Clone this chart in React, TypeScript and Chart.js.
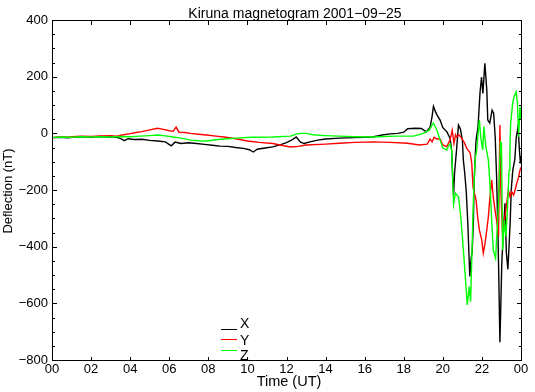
import React, { useEffect, useRef } from "react";
import { Chart, registerables } from "chart.js";

Chart.register(...registerables);

const TITLE = "Kiruna magnetogram 2001\u221209\u221225";
const X_LABEL = "Time (UT)";
const Y_LABEL = "Deflection (nT)";
const SERIES_NAMES = ["X", "Y", "Z"];
const SERIES_COLORS = ["#000000", "#ff0000", "#00ff00"];

const HOUR_MIN = 0;
const HOUR_MAX = 24;
const HOUR_STEP = 2;
const Y_MIN = -800;
const Y_MAX = 400;
const Y_STEP = 200;
const Y_MINOR_STEP = 50;

// X component (black)
const X_T = [0, 0.4, 0.8, 1.2, 1.6, 2, 2.4, 2.8, 3.2, 3.5, 3.7, 3.9, 4.2, 4.6, 5, 5.4, 5.8, 6.1, 6.3, 6.6, 7, 7.4, 7.8, 8.2, 8.6, 9, 9.4, 9.8, 10.1, 10.3, 10.5, 10.9, 11.3, 11.7, 12, 12.3, 12.5, 12.7, 12.9, 13.2, 13.6, 14, 14.7, 15.5, 16.4, 16.9, 17.3, 17.7, 18, 18.2, 18.6, 18.9, 19.15, 19.35, 19.45, 19.52, 19.6, 19.7, 19.86, 20.0, 20.2, 20.37, 20.45, 20.5, 20.55, 20.6, 20.7, 20.8, 20.9, 21.0, 21.05, 21.12, 21.2, 21.28, 21.38, 21.45, 21.5, 21.56, 21.6, 21.65, 21.7, 21.8, 21.9, 21.98, 22.05, 22.15, 22.25, 22.3, 22.4, 22.52, 22.6, 22.68, 22.75, 22.82, 22.87, 22.92, 22.97, 23.02, 23.1, 23.18, 23.25, 23.33, 23.4, 23.45, 23.5, 23.58, 23.68, 23.76, 23.85, 23.92, 23.97, 24];
const X_V = [-15, -14, -16, -13, -12, -14, -11, -13, -12, -18, -26, -19, -22, -21, -25, -27, -30, -44, -31, -36, -33, -36, -39, -42, -45, -46, -50, -53, -58, -66, -56, -52, -48, -40, -33, -22, -13, -30, -36, -30, -24, -20, -17, -15, -13, -6, -2, 0, 4, 16, 18, 17, 5, 22, 60, 95, 80, 65, 47, 20, 6, -17, -59, -150, -220, -140, -60, 29, 15, -24, -94, -140, -207, -320, -505, -440, -420, -317, -180, -94, -24, 23, 141, 199, 141, 247, 153, 47, 36, 82, 71, -13, -150, -350, -530, -737, -600, -450, -350, -247, -420, -480, -380, -306, -200, -130, -94, -13, 24, -60, -106, -80];

// Y component (red)
const Y_T = [0, 0.5, 1, 1.5, 2, 2.5, 3, 3.3, 3.6, 4, 4.3, 4.6, 5, 5.4, 5.7, 5.95, 6.2, 6.35, 6.5, 6.8, 7.1, 7.5, 7.9, 8.4, 8.8, 9.4, 10, 10.6, 11.3, 11.8, 12.2, 12.6, 13, 14, 14.7, 15.5, 16.4, 17.3, 18.2, 18.8, 19.2, 19.35, 19.45, 19.55, 19.7, 19.86, 20.0, 20.2, 20.37, 20.48, 20.57, 20.65, 20.71, 20.83, 20.96, 21.08, 21.22, 21.4, 21.48, 21.55, 21.7, 21.78, 21.87, 21.99, 22.07, 22.16, 22.25, 22.33, 22.4, 22.5, 22.58, 22.67, 22.75, 22.85, 22.92, 22.97, 23.05, 23.18, 23.27, 23.35, 23.44, 23.53, 23.62, 23.7, 23.78, 23.86, 23.95, 24];
const Y_V = [-15, -13, -12, -10, -11, -9, -8, -10, -6, -1, 3, 6, 12, 18, 14, 10, 7, 22, 4, 3, 0, -3, -6, -10, -13, -19, -27, -32, -36, -43, -48, -46, -41, -38, -35, -32, -30, -32, -35, -41, -38, -20, -30, -14, -20, -20, -41, -47, -24, 11, -35, -5, -13, -6, -17, -30, -52, -70, -106, -193, -235, -294, -341, -376, -423, -388, -341, -294, -235, -165, -224, -270, -306, -364, 29, -200, -353, -294, -247, -200, -224, -206, -218, -200, -177, -159, -130, -120];

// Z component (green)
const Z_T = [0, 0.5, 1, 1.5, 2, 2.5, 3, 3.5, 4, 4.5, 5, 5.4, 5.8, 6.2, 6.6, 7.1, 7.5, 7.9, 8.5, 9, 9.6, 10.2, 11.3, 12.2, 12.5, 12.7, 13, 13.3, 13.5, 14, 14.7, 15.5, 16.4, 17, 17.6, 18.5, 19.0, 19.3, 19.45, 19.52, 19.6, 19.7, 19.86, 20.0, 20.2, 20.27, 20.37, 20.45, 20.5, 20.55, 20.6, 20.65, 20.8, 20.9, 21.0, 21.05, 21.15, 21.25, 21.35, 21.42, 21.48, 21.56, 21.6, 21.65, 21.73, 21.87, 21.94, 22.04, 22.1, 22.2, 22.33, 22.4, 22.5, 22.58, 22.7, 22.85, 22.9, 22.95, 23.0, 23.06, 23.15, 23.23, 23.32, 23.39, 23.43, 23.47, 23.58, 23.64, 23.75, 23.82, 23.88, 23.95, 24];
const Z_V = [-15, -13, -14, -12, -13, -12, -13, -11, -12, -10, -8, -6, -9, -13, -17, -24, -26, -27, -22, -19, -16, -14, -13, -10, -3, 0, 0, -4, -6, -8, -10, -12, -13, -11, -10, -10, 0, 11, 29, 36, 25, 11, -24, -52, -59, -47, -38, -59, -150, -250, -230, -212, -224, -282, -364, -412, -506, -606, -541, -594, -447, -247, -170, -94, -59, 47, -13, -59, 24, -47, -94, -165, -306, -412, -441, -247, -130, -30, -35, -412, -306, -364, -247, -130, -60, 36, 110, 128, 146, 106, -12, 94, 47];

const FONT = "'Liberation Sans', Arial, Helvetica, sans-serif";

function toPoints(t: number[], v: number[]) {
  return t.map((h, i) => ({ x: h, y: v[i] }));
}

function fmtMinus(v: number) {
  return String(v).replace("-", "\u2212");
}

const framePlugin = {
  id: "frame",
  afterDraw(chart: any) {
    const { ctx, chartArea: a, scales } = chart;
    const xs = scales.x;
    const ys = scales.y;
    ctx.save();
    ctx.strokeStyle = "#000";
    ctx.lineWidth = 1;
    ctx.beginPath();
    ctx.rect(a.left + 0.5, a.top + 0.5, a.right - a.left, a.bottom - a.top);
    ctx.stroke();

    ctx.beginPath();
    for (let v = Y_MIN; v <= Y_MAX; v += Y_MINOR_STEP) {
      const py = Math.round(ys.getPixelForValue(v)) + 0.5;
      const len = v % Y_STEP === 0 ? 5 : 3;
      ctx.moveTo(a.left, py);
      ctx.lineTo(a.left + len, py);
      ctx.moveTo(a.right + 1, py);
      ctx.lineTo(a.right + 1 - len, py);
    }
    for (let h = HOUR_MIN; h <= HOUR_MAX; h += HOUR_STEP) {
      const px = Math.round(xs.getPixelForValue(h)) + 0.5;
      ctx.moveTo(px, a.top);
      ctx.lineTo(px, a.top + 5);
      ctx.moveTo(px, a.bottom + 1);
      ctx.lineTo(px, a.bottom + 1 - 4);
    }
    ctx.stroke();

    ctx.fillStyle = "#000";
    ctx.textAlign = "center";
    ctx.textBaseline = "alphabetic";
    ctx.font = `14px ${FONT}`;
    ctx.fillText(TITLE, 295, 18);
    ctx.font = `14.5px ${FONT}`;
    ctx.fillText(X_LABEL, 289, 386);

    ctx.font = `13px ${FONT}`;
    ctx.save();
    ctx.translate(12, 191);
    ctx.rotate(-Math.PI / 2);
    ctx.fillText(Y_LABEL, 0, 0);
    ctx.restore();

    // legend
    const lineYs = [329, 339, 350];
    const textYs = [328, 345, 360];
    ctx.textAlign = "left";
    ctx.font = `14px ${FONT}`;
    SERIES_NAMES.forEach((name, i) => {
      ctx.strokeStyle = SERIES_COLORS[i];
      ctx.beginPath();
      ctx.moveTo(221, lineYs[i] + 0.5);
      ctx.lineTo(237, lineYs[i] + 0.5);
      ctx.stroke();
      ctx.fillStyle = "#000";
      ctx.fillText(name, 240, textYs[i]);
    });
    ctx.restore();
  },
};

export default function App() {
  const ref = useRef<HTMLCanvasElement | null>(null);
  useEffect(() => {
    if (!ref.current) return;
    const series = [toPoints(X_T, X_V), toPoints(Y_T, Y_V), toPoints(Z_T, Z_V)];
    const chart = new Chart(ref.current, {
      type: "line",
      data: {
        datasets: series.map((d, i) => ({
          label: SERIES_NAMES[i],
          data: d,
          borderColor: SERIES_COLORS[i],
          backgroundColor: SERIES_COLORS[i],
          borderWidth: 1.4,
          pointRadius: 0,
          tension: 0,
          fill: false,
          order: 3 - i,
        })),
      },
      options: {
        responsive: false,
        animation: false,
        events: [],
        layout: { padding: { top: 20, right: 14, left: 0, bottom: 0 } },
        plugins: { legend: { display: false }, tooltip: { enabled: false }, title: { display: false } },
        scales: {
          x: {
            type: "linear",
            min: HOUR_MIN,
            max: HOUR_MAX,
            grid: { display: false, drawTicks: false },
            border: { display: false },
            ticks: {
              stepSize: HOUR_STEP,
              color: "#000",
              font: { family: FONT, size: 13 },
              padding: 2,
              maxRotation: 0,
              autoSkip: false,
              callback: (v: any) => String(Number(v) % 24).padStart(2, "0"),
            },
            afterFit: (s: any) => {
              s.height = 32;
            },
          },
          y: {
            type: "linear",
            min: Y_MIN,
            max: Y_MAX,
            grid: { display: false, drawTicks: false },
            border: { display: false },
            ticks: {
              stepSize: Y_STEP,
              color: "#000",
              font: { family: FONT, size: 13 },
              padding: 4,
              callback: (v: any) => fmtMinus(Number(v)),
            },
            afterFit: (s: any) => {
              s.width = 52;
            },
          },
        },
      },
      plugins: [framePlugin],
    });
    return () => chart.destroy();
  }, []);
  return (
    <div style={{ position: "absolute", left: 0, top: 0, width: 535, height: 392, background: "#fff" }}>
      <canvas ref={ref} width={535} height={392} style={{ display: "block" }} />
    </div>
  );
}
